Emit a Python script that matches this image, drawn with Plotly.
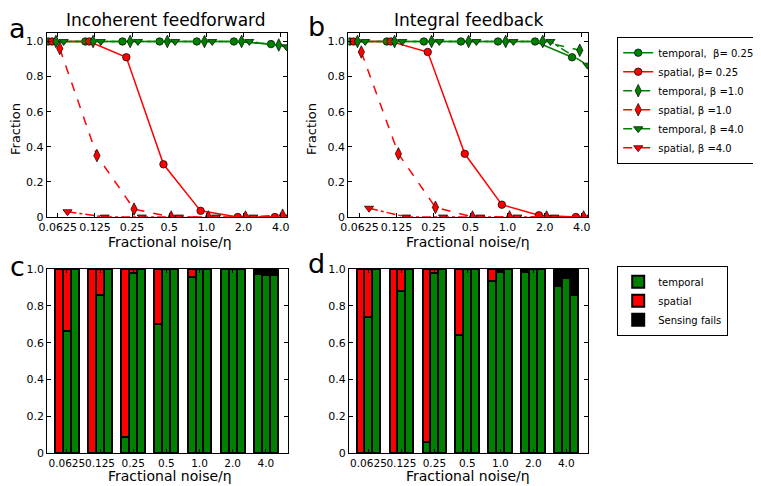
import plotly.graph_objects as go

# ---------------- data ----------------
noise_labels = ["0.0625", "0.125", "0.25", "0.5", "1.0", "2.0", "4.0"]
series_names = ["temporal,  β= 0.25", "spatial, β= 0.25",
                "temporal, β =1.0", "spatial, β =1.0",
                "temporal, β =4.0", "spatial, β =4.0"]

# panel a: Incoherent feedforward (fraction)
iff_temporal_b025 = [1.0, 1.0, 1.0, 1.0, 1.0, 1.0, 0.985]
iff_spatial_b025 = [1.0, 1.0, 0.91, 0.30, 0.035, 0.0, 0.0]
iff_temporal_b1 = [1.0, 1.0, 1.0, 1.0, 1.0, 1.0, 0.98]
iff_spatial_b1 = [0.96, 0.35, 0.045, 0.0, 0.0, 0.0, 0.01]
iff_temporal_b4 = [1.0, 1.0, 1.0, 1.0, 1.0, 1.0, 0.97]
iff_spatial_b4 = [0.03, 0.0, 0.0, 0.0, 0.0, 0.0, 0.0]

# panel b: Integral feedback (fraction)
if_temporal_b025 = [1.0, 1.0, 1.0, 1.0, 1.0, 1.0, 0.91]
if_spatial_b025 = [1.0, 1.0, 0.94, 0.36, 0.07, 0.01, 0.0]
if_temporal_b1 = [1.0, 1.0, 1.0, 1.0, 1.0, 1.0, 0.95]
if_spatial_b1 = [0.94, 0.36, 0.055, 0.0, 0.0, 0.0, 0.0]
if_temporal_b4 = [1.0, 1.0, 1.0, 1.0, 1.0, 1.0, 0.865]
if_spatial_b4 = [0.05, 0.0, 0.0, 0.0, 0.0, 0.0, 0.0]

# panel c: Incoherent feedforward outcome shares (bars for beta 0.25, 1.0, 4.0)
c_temporal_b025 = [0.0, 0.0, 0.09, 0.70, 0.955, 1.0, 0.975]
c_spatial_b025 = [1.0, 1.0, 0.91, 0.30, 0.045, 0.0, 0.0]
c_fails_b025 = [0.0, 0.0, 0.0, 0.0, 0.0, 0.0, 0.025]
c_temporal_b1 = [0.665, 0.86, 0.98, 1.0, 1.0, 1.0, 0.965]
c_spatial_b1 = [0.335, 0.14, 0.02, 0.0, 0.0, 0.0, 0.0]
c_fails_b1 = [0.0, 0.0, 0.0, 0.0, 0.0, 0.0, 0.035]
c_temporal_b4 = [1.0, 1.0, 1.0, 1.0, 1.0, 1.0, 0.965]
c_spatial_b4 = [0.0, 0.0, 0.0, 0.0, 0.0, 0.0, 0.0]
c_fails_b4 = [0.0, 0.0, 0.0, 0.0, 0.0, 0.0, 0.035]

# panel d: Integral feedback outcome shares
d_temporal_b025 = [0.0, 0.0, 0.06, 0.64, 0.935, 0.985, 0.91]
d_spatial_b025 = [1.0, 1.0, 0.94, 0.36, 0.065, 0.0, 0.0]
d_fails_b025 = [0.0, 0.0, 0.0, 0.0, 0.0, 0.015, 0.09]
d_temporal_b1 = [0.74, 0.88, 0.977, 1.0, 0.985, 1.0, 0.95]
d_spatial_b1 = [0.26, 0.12, 0.023, 0.0, 0.0, 0.0, 0.0]
d_fails_b1 = [0.0, 0.0, 0.0, 0.0, 0.015, 0.0, 0.05]
d_temporal_b4 = [1.0, 1.0, 1.0, 1.0, 1.0, 1.0, 0.86]
d_spatial_b4 = [0.0, 0.0, 0.0, 0.0, 0.0, 0.0, 0.0]
d_fails_b4 = [0.0, 0.0, 0.0, 0.0, 0.0, 0.0, 0.14]

y_ticks = [0, 0.2, 0.4, 0.6, 0.8, 1.0]
y_ticktext = ["0", "0.2", "0.4", "0.6", "0.8", "1.0"]

# ---------------- style ----------------
# the page body has an 8px margin, so the figure is drawn 8px smaller and
# screen positions are converted to figure positions
OFF = 8
W, H = 761 - OFF, 486 - OFF
FONT = "DejaVu Sans"
GREEN = "#008000"
RED = "#ff0000"
colors = [GREEN, RED, GREEN, RED, GREEN, RED]
symbols = ["circle", "circle", "diamond-tall", "diamond-tall", "triangle-down", "triangle-down"]
msizes = [7.5, 7.5, 9, 9, 8, 8]
dashes = ["solid", "solid", "dash", "dash", "dashdot", "dashdot"]


def px_x(p):
    return (p - OFF) / W


def px_y(p):
    return 1 - (p - OFF) / H


fig = go.Figure()

n = len(noise_labels)
line_panels = [
    ("x", "y", [iff_temporal_b025, iff_spatial_b025, iff_temporal_b1, iff_spatial_b1, iff_temporal_b4, iff_spatial_b4], True),
    ("x2", "y2", [if_temporal_b025, if_spatial_b025, if_temporal_b1, if_spatial_b1, if_temporal_b4, if_spatial_b4], False),
]
for xa, ya, series, show in line_panels:
    for k, vals in enumerate(series):
        off = (k - 2.5) * 0.104
        fig.add_trace(go.Scatter(
            x=[i + off for i in range(n)], y=vals, xaxis=xa, yaxis=ya,
            mode="lines+markers", name=series_names[k], showlegend=show,
            legend="legend",
            line=dict(color=colors[k], width=1.5, dash=dashes[k]),
            marker=dict(symbol=symbols[k], size=msizes[k], color=colors[k],
                        line=dict(color="black", width=0.7)),
            cliponaxis=True,
        ))

bar_w = 0.24
bar_panels = [
    ("x3", "y3",
     [c_temporal_b025, c_temporal_b1, c_temporal_b4],
     [c_spatial_b025, c_spatial_b1, c_spatial_b4],
     [c_fails_b025, c_fails_b1, c_fails_b4], True),
    ("x4", "y4",
     [d_temporal_b025, d_temporal_b1, d_temporal_b4],
     [d_spatial_b025, d_spatial_b1, d_spatial_b4],
     [d_fails_b025, d_fails_b1, d_fails_b4], False),
]
for xa, ya, temps, spats, fails, show in bar_panels:
    xs = []
    tv, sv, fv = [], [], []
    for i in range(n):
        for k in range(3):
            xs.append(i + 0.12 + bar_w * k)
            tv.append(temps[k][i])
            sv.append(spats[k][i])
            fv.append(fails[k][i])
    for name, vals, col in [("temporal", tv, GREEN), ("spatial", sv, RED), ("Sensing fails", fv, "black")]:
        fig.add_trace(go.Bar(
            x=xs, y=vals, width=bar_w, xaxis=xa, yaxis=ya, name=name,
            showlegend=show, legend="legend2",
            marker=dict(color=col, line=dict(color="black", width=2)),
        ))

axis_common = dict(showline=True, linecolor="black", linewidth=1.2, mirror="ticks",
                   ticks="inside", ticklen=4, tickcolor="black", showgrid=False,
                   zeroline=False, automargin=False, tickangle=0,
                   tickfont=dict(family=FONT, size=11, color="black"))
bot_x_font = dict(family=FONT, size=10.5, color="black")

top_y = [px_y(217), px_y(32.7)]
bot_y = [px_y(453.3), px_y(269)]

fig.update_layout(
    width=W, height=H, margin=dict(l=0, r=0, t=0, b=0, autoexpand=False),
    paper_bgcolor="white", plot_bgcolor="white",
    font=dict(family=FONT, color="black"),
    barmode="stack",
    xaxis=dict(domain=[px_x(46.7), px_x(287)], range=[-0.3, 6.17],
               tickvals=list(range(n)), ticktext=noise_labels, anchor="y", **axis_common),
    yaxis=dict(domain=top_y, range=[0, 1.05], tickvals=y_ticks, ticktext=y_ticktext,
               anchor="x", **axis_common),
    xaxis2=dict(domain=[px_x(348.3), px_x(588)], range=[-0.3, 6.17],
                tickvals=list(range(n)), ticktext=noise_labels, anchor="y2", **axis_common),
    yaxis2=dict(domain=top_y, range=[0, 1.05], tickvals=y_ticks, ticktext=y_ticktext,
                anchor="x2", **axis_common),
    xaxis3=dict(domain=[px_x(47.3), px_x(288)], range=[-0.23, 7.03],
                tickvals=[i + 0.36 for i in range(n)], ticktext=noise_labels, anchor="y3",
                **{**axis_common, "tickfont": bot_x_font}),
    yaxis3=dict(domain=bot_y, range=[0, 1.0], tickvals=y_ticks, ticktext=y_ticktext,
                anchor="x3", **axis_common),
    xaxis4=dict(domain=[px_x(349), px_x(588.3)], range=[-0.23, 7.03],
                tickvals=[i + 0.36 for i in range(n)], ticktext=noise_labels, anchor="y4",
                **{**axis_common, "tickfont": bot_x_font}),
    yaxis4=dict(domain=bot_y, range=[0, 1.0], tickvals=y_ticks, ticktext=y_ticktext,
                anchor="x4", **axis_common),
    legend=dict(x=px_x(617), y=px_y(37), xanchor="left", yanchor="top",
                bordercolor="black", borderwidth=1.2, bgcolor="white",
                font=dict(family=FONT, size=10, color="black"), itemwidth=30,
                tracegroupgap=0),
    legend2=dict(x=px_x(617), y=px_y(266), xanchor="left", yanchor="top",
                 bordercolor="black", borderwidth=1.2, bgcolor="white",
                 font=dict(family=FONT, size=10, color="black"), itemwidth=30,
                 traceorder="normal"),
)

ann = []


def text(x, y, s, size, angle=0, xanchor="center", yanchor="middle"):
    ann.append(dict(x=px_x(x), y=px_y(y), xref="paper", yref="paper", text=s,
                    showarrow=False, textangle=angle, xanchor=xanchor, yanchor=yanchor,
                    font=dict(family=FONT, size=size, color="black")))


text(166, OFF, "Incoherent feedforward", 17, yanchor="top")
text(468, OFF, "Integral feedback", 17, yanchor="top")
text(17, 28, "a", 27)
text(316, 26, "b", 27)
text(17, 266, "c", 27)
text(316, 264, "d", 27)
text(16, 129, "Fraction", 13, angle=-90)
text(312, 129, "Fraction", 13, angle=-90)
text(170, 242, "Fractional noise/η", 14)
text(468, 242, "Fractional noise/η", 14)
text(170, 476, "Fractional noise/η", 14)
text(468, 476, "Fractional noise/η", 14)
fig.update_layout(annotations=ann)

fig.write_html("out.html")
